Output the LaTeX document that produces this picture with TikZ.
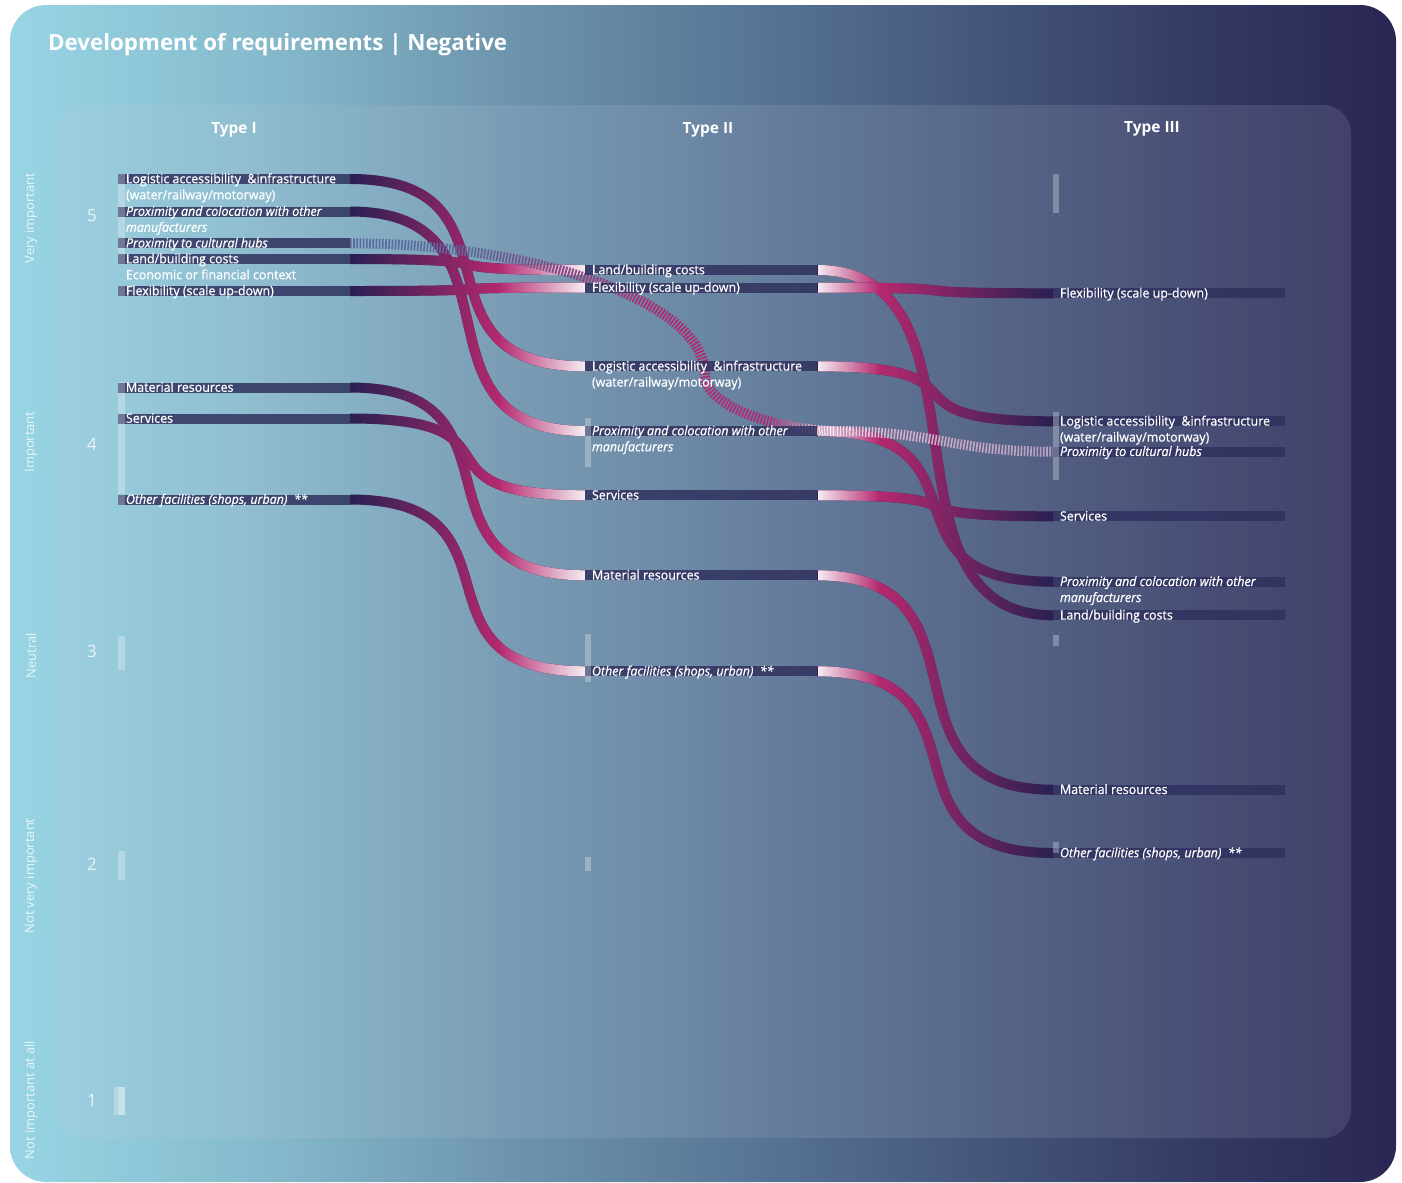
\documentclass[tikz,border=0pt]{standalone}
\usepackage{fontspec}
\setmainfont{Open Sans}
\newfontfamily\labelfont{Open Sans}[FakeBold=0.7, FakeStretch=0.96]
\usetikzlibrary{fadings}

\pgfdeclarelayer{cardlayer}
\pgfdeclarelayer{linklayer}
\pgfdeclarelayer{toplayer}
\pgfsetlayers{cardlayer,linklayer,main,toplayer}

% palette
\definecolor{bgA}{HTML}{98D5E4}
\definecolor{bgB}{HTML}{86BCCD}
\definecolor{bgC}{HTML}{6E96AE}
\definecolor{bgD}{HTML}{587595}
\definecolor{bgE}{HTML}{435478}
\definecolor{bgF}{HTML}{343A64}
\definecolor{bgG}{HTML}{2A2654}
\definecolor{panelc}{HTML}{C8CCE0}
\definecolor{barc}{HTML}{30325F}
\definecolor{darkc}{HTML}{2A2052}
\definecolor{magc}{HTML}{B5296F}
\definecolor{lightc}{HTML}{F6EEF3}
\definecolor{dashc}{HTML}{5A6A9C}
\definecolor{gA}{gray}{0.6}
\definecolor{gB}{gray}{0.25}
\definecolor{gC}{gray}{0.65}
\definecolor{gD}{gray}{0.5}

% opacity ramps along x for the ribbons (first gap 235bp, second gap 236bp, long dashed ribbon 703bp)
\pgfdeclarehorizontalshading{shAmag}{2000bp}{color(0bp)=(black); color(150bp)=(white); color(235bp)=(white)}
\pgfdeclarefading{fAmag}{\pgfuseshading{shAmag}}
\pgfdeclarehorizontalshading{shAlight}{2000bp}{color(0bp)=(black); color(148bp)=(black); color(235bp)=(white)}
\pgfdeclarefading{fAlight}{\pgfuseshading{shAlight}}
\pgfdeclarehorizontalshading{shBlight}{2000bp}{color(0bp)=(white); color(62bp)=(black); color(236bp)=(black)}
\pgfdeclarefading{fBlight}{\pgfuseshading{shBlight}}
\pgfdeclarehorizontalshading{shBmag}{2000bp}{color(0bp)=(white); color(62bp)=(white); color(236bp)=(black)}
\pgfdeclarefading{fBmag}{\pgfuseshading{shBmag}}
\pgfdeclarehorizontalshading{shDmag}{2000bp}{color(0bp)=(black); color(110bp)=(black); color(300bp)=(white); color(440bp)=(white); color(560bp)=(gA); color(703bp)=(gB)}
\pgfdeclarefading{fDmag}{\pgfuseshading{shDmag}}
\pgfdeclarehorizontalshading{shDlight}{2000bp}{color(0bp)=(black); color(420bp)=(black); color(480bp)=(white); color(540bp)=(gC); color(703bp)=(gD)}
\pgfdeclarefading{fDlight}{\pgfuseshading{shDlight}}

\tikzset{
  bar/.style={rectangle, inner sep=0pt, outer sep=0pt, minimum width=232bp, minimum height=10bp, fill=barc, fill opacity=0.85},
  stubbar/.style={bar, path picture={\fill[white, opacity=0.25] (path picture bounding box.south west) rectangle ([xshift=7bp]path picture bounding box.north west);}},
  strip/.style={fill=white, fill opacity=0.28},
  lab/.style={anchor=base west, inner sep=0pt, outer sep=0pt, text=white, font=\labelfont\fontsize{13}{15}\selectfont},
  labit/.style={lab, font=\labelfont\fontsize{13}{15}\selectfont\itshape},
  head/.style={text=white, inner sep=0pt, font=\bfseries\fontsize{15.5}{18}\selectfont},
  axislab/.style={rotate=90, text=white, text opacity=0.8, inner sep=0pt, font=\fontsize{13}{15}\selectfont},
  levelnum/.style={text=white, text opacity=0.8, inner sep=0pt, font=\fontsize{17}{20}\selectfont},
  link/.style={line width=10bp, draw=darkc},
  linkAmag/.style={link, draw=magc, path fading=fAmag, fit fading=false, fading transform={shift={(467.5,600)}}},
  linkAlight/.style={link, draw=lightc, path fading=fAlight, fit fading=false, fading transform={shift={(467.5,600)}}},
  linkBmag/.style={link, draw=magc, path fading=fBmag, fit fading=false, fading transform={shift={(935,600)}}},
  linkBlight/.style={link, draw=lightc, path fading=fBlight, fit fading=false, fading transform={shift={(935,600)}}},
  dashlink/.style={line width=10bp, draw=dashc, dash pattern=on 1.6bp off 1.6bp},
  dashmag/.style={dashlink, draw=magc, path fading=fDmag, fit fading=false, fading transform={shift={(701.5,600)}}},
  dashlight/.style={dashlink, draw=lightc, path fading=fDlight, fit fading=false, fading transform={shift={(701.5,600)}}},
}

% ribbon from a Type I bar to a Type II bar
\newcommand\gaplinkA[2]{%
  \draw[link] (#1.east) .. controls +(185,0) and +(-185,0) .. (#2.west);
  \draw[linkAmag] (#1.east) .. controls +(185,0) and +(-185,0) .. (#2.west);
  \draw[linkAlight] (#1.east) .. controls +(185,0) and +(-185,0) .. (#2.west);
}
% ribbon from a Type II bar to a Type III bar
\newcommand\gaplinkB[2]{%
  \draw[link] (#1.east) .. controls +(185,0) and +(-185,0) .. (#2.west);
  \draw[linkBmag] (#1.east) .. controls +(185,0) and +(-185,0) .. (#2.west);
  \draw[linkBlight] (#1.east) .. controls +(185,0) and +(-185,0) .. (#2.west);
}

\begin{document}
\begin{tikzpicture}[x=1bp, y=-1bp]
\useasboundingbox (0,0) rectangle (1402,1182);

% card and inner panel
\begin{pgfonlayer}{cardlayer}
  \begin{scope}
    \clip[rounded corners=36bp] (10,5) rectangle (1396,1182);
    \shade[left color=bgA, right color=bgB] (9,0) rectangle (250.5,1183);
    \shade[left color=bgB, right color=bgC] (250,0) rectangle (500.5,1183);
    \shade[left color=bgC, right color=bgD] (500,0) rectangle (750.5,1183);
    \shade[left color=bgD, right color=bgE] (750,0) rectangle (1000.5,1183);
    \shade[left color=bgE, right color=bgF] (1000,0) rectangle (1200.5,1183);
    \shade[left color=bgF, right color=bgG] (1200,0) rectangle (1397,1183);
  \end{scope}
  \fill[panelc, fill opacity=0.14, rounded corners=28bp] (55,105) rectangle (1351,1138);
\end{pgfonlayer}

% title, column heads, scale
\node[anchor=base west, inner sep=0pt, text=white, font=\bfseries\fontsize{22.4}{26}\selectfont] (title) at (48,50) {Development of requirements | Negative};
\node[head] (h1) at (234,130) {Type I};
\node[head] (h2) at (708,130) {Type II};
\node[head] (h3) at (1152,129) {Type III};

\node[axislab] (ax5) at (31,218) {Very important};
\node[axislab] (ax4) at (31,442) {Important};
\node[axislab] (ax3) at (31,656) {Neutral};
\node[axislab] (ax2) at (31,876) {Not very important};
\node[axislab] (ax1) at (31,1100) {Not important at all};
\node[levelnum] (n5) at (92,216) {5};
\node[levelnum] (n4) at (92,444) {4};
\node[levelnum] (n3) at (92,651) {3};
\node[levelnum] (n2) at (92,864) {2};
\node[levelnum] (n1) at (92,1100) {1};

% spread markers of Type I (below the bars)
\fill[strip] (118,174) rectangle (124.5,262);
\fill[strip] (118,382) rectangle (124.5,494);
\fill[strip] (118,636) rectangle (124.5,670);
\fill[strip] (118,851) rectangle (124.5,880);
\fill[strip] (114,1087) rectangle (124.5,1115);
\fill[strip] (118,1087) rectangle (124.5,1115);

% Type I bars
\node[stubbar] (a-log)  at (234,179) {};
\node[stubbar] (a-prox) at (234,211.5) {};
\node[stubbar] (a-cult) at (234,243.3) {};
\node[stubbar] (a-land) at (234,259) {};
\node[stubbar] (a-flex) at (234,291) {};
\node[stubbar] (a-mat)  at (234,387.5) {};
\node[stubbar] (a-serv) at (234,418.5) {};
\node[stubbar] (a-oth)  at (234,499.5) {};

% Type II bars
\node[bar] (b-land) at (701,270) {};
\node[bar] (b-flex) at (701,287.5) {};
\node[bar] (b-log)  at (701,366.3) {};
\node[bar] (b-prox) at (701,431) {};
\node[bar] (b-serv) at (701,495.3) {};
\node[bar] (b-mat)  at (701,575.3) {};
\node[bar] (b-oth)  at (701,671.3) {};

% Type III bars
\node[bar] (c-flex) at (1169,293.3) {};
\node[bar] (c-log)  at (1169,421.3) {};
\node[bar] (c-cult) at (1169,451.7) {};
\node[bar] (c-serv) at (1169,516.3) {};
\node[bar] (c-prox) at (1169,581.7) {};
\node[bar] (c-land) at (1169,615.3) {};
\node[bar] (c-mat)  at (1169,789.7) {};
\node[bar] (c-oth)  at (1169,853) {};

% ribbons
\begin{pgfonlayer}{linklayer}
  \gaplinkA{a-log}{b-log}
  \gaplinkA{a-prox}{b-prox}
  \gaplinkA{a-land}{b-land}
  \gaplinkA{a-flex}{b-flex}
  \gaplinkA{a-mat}{b-mat}
  \gaplinkA{a-serv}{b-serv}
  \gaplinkA{a-oth}{b-oth}
  \gaplinkB{b-land}{c-land}
  \gaplinkB{b-flex}{c-flex}
  \gaplinkB{b-log}{c-log}
  \gaplinkB{b-prox}{c-prox}
  \gaplinkB{b-serv}{c-serv}
  \gaplinkB{b-mat}{c-mat}
  \gaplinkB{b-oth}{c-oth}
  % cultural hubs: Type I straight to Type III, hatched
  \def\cultpath{(a-cult.east) .. controls (530,243.3) and (705,300) .. (705,375) .. controls (705,405) and (770,428) .. (830,431) .. controls (940,431) and (950,451.7) .. (c-cult.west)}
  \draw[dashlink] \cultpath;
  \draw[dashmag] \cultpath;
  \draw[dashlight] \cultpath;
\end{pgfonlayer}

% spread markers of Type II and Type III
\begin{pgfonlayer}{toplayer}
  \fill[strip] (585,418) rectangle (591,467);
  \fill[strip] (585,634) rectangle (591,682);
  \fill[strip] (585,857) rectangle (591,871);
  \fill[strip] (1053,174) rectangle (1059,213);
  \fill[strip] (1053,412) rectangle (1059,480);
  \fill[strip] (1053,635) rectangle (1059,646);
  \fill[strip] (1053,842) rectangle (1059,853);
\end{pgfonlayer}

% Type I labels
\node[lab] (a-log-t) at ([xshift=8bp,yshift=-4.3bp]a-log.west) {Logistic accessibility\ \ \&infrastructure};
\node[lab] (a-log-u) at ([xshift=8bp,yshift=-20.3bp]a-log.west) {(water/railway/motorway)};
\node[labit] (a-prox-t) at ([xshift=8bp,yshift=-4.3bp]a-prox.west) {Proximity and colocation with other};
\node[labit] (a-prox-u) at ([xshift=8bp,yshift=-20.3bp]a-prox.west) {manufacturers};
\node[labit] (a-cult-t) at ([xshift=8bp,yshift=-4.3bp]a-cult.west) {Proximity to cultural hubs};
\node[lab] (a-land-t) at ([xshift=8bp,yshift=-4.3bp]a-land.west) {Land/building costs};
\node[lab] (a-econ-t) at ([xshift=8bp,yshift=-20.3bp]a-land.west) {Economic or financial context};
\node[lab] (a-flex-t) at ([xshift=8bp,yshift=-4.3bp]a-flex.west) {Flexibility (scale up-down)};
\node[lab] (a-mat-t) at ([xshift=8bp,yshift=-4.3bp]a-mat.west) {Material resources};
\node[lab] (a-serv-t) at ([xshift=8bp,yshift=-4.3bp]a-serv.west) {Services};
\node[labit] (a-oth-t) at ([xshift=8bp,yshift=-4.3bp]a-oth.west) {Other facilities (shops, urban)\ \ **};

% Type II labels
\node[lab] (b-land-t) at ([xshift=7bp,yshift=-4.3bp]b-land.west) {Land/building costs};
\node[lab] (b-flex-t) at ([xshift=7bp,yshift=-4.3bp]b-flex.west) {Flexibility (scale up-down)};
\node[lab] (b-log-t) at ([xshift=7bp,yshift=-4.3bp]b-log.west) {Logistic accessibility\ \ \&infrastructure};
\node[lab] (b-log-u) at ([xshift=7bp,yshift=-20.3bp]b-log.west) {(water/railway/motorway)};
\node[labit] (b-prox-t) at ([xshift=7bp,yshift=-4.3bp]b-prox.west) {Proximity and colocation with other};
\node[labit] (b-prox-u) at ([xshift=7bp,yshift=-20.3bp]b-prox.west) {manufacturers};
\node[lab] (b-serv-t) at ([xshift=7bp,yshift=-4.3bp]b-serv.west) {Services};
\node[lab] (b-mat-t) at ([xshift=7bp,yshift=-4.3bp]b-mat.west) {Material resources};
\node[labit] (b-oth-t) at ([xshift=7bp,yshift=-4.3bp]b-oth.west) {Other facilities (shops, urban)\ \ **};

% Type III labels
\node[lab] (c-flex-t) at ([xshift=7bp,yshift=-4.3bp]c-flex.west) {Flexibility (scale up-down)};
\node[lab] (c-log-t) at ([xshift=7bp,yshift=-4.3bp]c-log.west) {Logistic accessibility\ \ \&infrastructure};
\node[lab] (c-log-u) at ([xshift=7bp,yshift=-20.3bp]c-log.west) {(water/railway/motorway)};
\node[labit] (c-cult-t) at ([xshift=7bp,yshift=-4.3bp]c-cult.west) {Proximity to cultural hubs};
\node[lab] (c-serv-t) at ([xshift=7bp,yshift=-4.3bp]c-serv.west) {Services};
\node[labit] (c-prox-t) at ([xshift=7bp,yshift=-4.3bp]c-prox.west) {Proximity and colocation with other};
\node[labit] (c-prox-u) at ([xshift=7bp,yshift=-20.3bp]c-prox.west) {manufacturers};
\node[lab] (c-land-t) at ([xshift=7bp,yshift=-4.3bp]c-land.west) {Land/building costs};
\node[lab] (c-mat-t) at ([xshift=7bp,yshift=-4.3bp]c-mat.west) {Material resources};
\node[labit] (c-oth-t) at ([xshift=7bp,yshift=-4.3bp]c-oth.west) {Other facilities (shops, urban)\ \ **};
\end{tikzpicture}
\end{document}
